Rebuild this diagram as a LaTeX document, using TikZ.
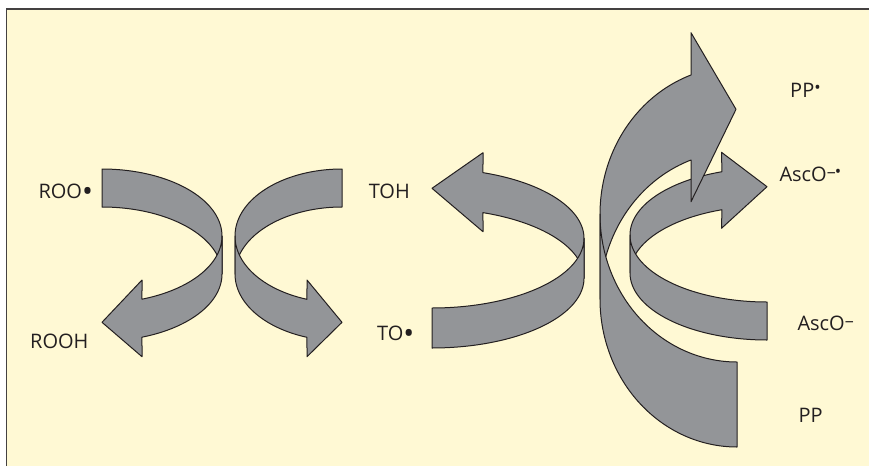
\documentclass[tikz,border=0pt]{standalone}
\usepackage{fontspec}
\setmainfont{Open Sans}
\definecolor{bg}{HTML}{FFF9D4}
\definecolor{rib}{HTML}{939598}
\definecolor{ink}{HTML}{231F20}
\newcommand{\radsup}{\raisebox{0.2em}{\scalebox{0.85}{•}}}
\newcommand{\minsup}{\raisebox{0.2em}{\scalebox{0.9}[0.8]{–}}}
\newcommand{\raddot}{\raisebox{-0.17em}{\scalebox{1.45}{•}}}
\tikzset{
  ribbon/.style={fill=rib, draw=ink, line width=1pt, line join=round},
  lbl/.style={anchor=base west, inner sep=0pt, text=ink, font=\fontsize{20}{24}\selectfont},
  frameline/.style={draw=ink!85, line width=1.5pt}
}
\begin{document}
\begin{tikzpicture}[x=1pt, y=-1pt]
\useasboundingbox (0,0) rectangle (869,466);
\fill[white] (0,0) rectangle (869,466);
\fill[bg] (6.5,9) rectangle (869,466);
\draw[frameline] (6.5,466) -- (6.5,9) -- (869,9);

% middle ribbon TO. -> TOH
\path[ribbon] plot[domain=0:70.4, samples=60] ({432+152*cos(\x)},{238.3-69.7*sin(\x)})
  -- (483,152.7) -- (432,188.3) -- (483,231.7)
  -- plot[domain=70.4:0, samples=60] ({432+152*cos(\x)},{278.3-69.7*sin(\x)}) -- cycle;
\path[ribbon] plot[domain=-90:0, samples=60] ({432+152*cos(\x)},{238.3-69.7*sin(\x)})
  -- plot[domain=0:-90, samples=60] ({432+152*cos(\x)},{278.3-69.7*sin(\x)}) -- cycle;

% left ribbon ROO. -> ROOH
\path[ribbon] plot[domain=90:0, samples=60] ({102+120*cos(\x)},{236-67*sin(\x)})
  -- plot[domain=0:90, samples=60] ({102+120*cos(\x)},{274-67*sin(\x)}) -- cycle;
\path[ribbon] plot[domain=0:-70.53, samples=60] ({102+120*cos(\x)},{236-67*sin(\x)})
  -- (142,280) -- (102,322.3) -- (142,356.7)
  -- plot[domain=-70.53:0, samples=60] ({102+120*cos(\x)},{274-67*sin(\x)}) -- cycle;

% right ribbon of left pair
\path[ribbon] plot[domain=90:0, samples=60] ({342-107*cos(\x)},{236-67*sin(\x)})
  -- plot[domain=0:90, samples=60] ({342-107*cos(\x)},{274-67*sin(\x)}) -- cycle;
\path[ribbon] plot[domain=0:-70.9, samples=60] ({342-107*cos(\x)},{236-67*sin(\x)})
  -- (307,280) -- (342,322.3) -- (307,356.7)
  -- plot[domain=-70.9:0, samples=60] ({342-107*cos(\x)},{274-67*sin(\x)}) -- cycle;

% AscO ribbon
\path[ribbon] plot[domain=0:70.8, samples=60] ({767-137*cos(\x)},{235-67*sin(\x)})
  -- (721.5,152.3) -- (767,186.7) -- (721.5,228.3)
  -- plot[domain=70.8:0, samples=60] ({767-137*cos(\x)},{273-67*sin(\x)}) -- cycle;
\path[ribbon] plot[domain=-90:0, samples=60] ({767-137*cos(\x)},{235-67*sin(\x)})
  -- plot[domain=0:-90, samples=60] ({767-137*cos(\x)},{273-67*sin(\x)}) -- cycle;

% PP ribbon
\path[ribbon] plot[domain=0:70.38, samples=80] ({737-137*cos(\x)},{214.2-147.8*sin(\x)})
  -- (691,32.7) -- (736,109.3) -- (691,201.7)
  -- plot[domain=70.38:0, samples=80] ({737-137*cos(\x)},{299.2-147.8*sin(\x)}) -- cycle;
\path[ribbon] plot[domain=-90:0, samples=80] ({737-137*cos(\x)},{214.2-147.8*sin(\x)})
  -- plot[domain=0:-90, samples=80] ({737-137*cos(\x)},{299.2-147.8*sin(\x)}) -- cycle;

% labels
\node[lbl] (roo)  at (38.3,198.3) {ROO\raddot};
\node[lbl] (rooh) at (30,348.3) {ROOH};
\node[lbl] (toh)  at (368.6,198.3) {TOH};
\node[lbl] (to)   at (377,340) {TO\raddot};
\node[lbl] (ppr)  at (790,97.3) {PP\radsup};
\node[lbl] (ascr) at (779.3,181.7) {AscO\minsup\kern-0.05em\radsup};
\node[lbl] (asc)  at (797.3,330.7) {AscO\minsup};
\node[lbl] (pp)   at (798.3,422.7) {PP};
\end{tikzpicture}
\end{document}
